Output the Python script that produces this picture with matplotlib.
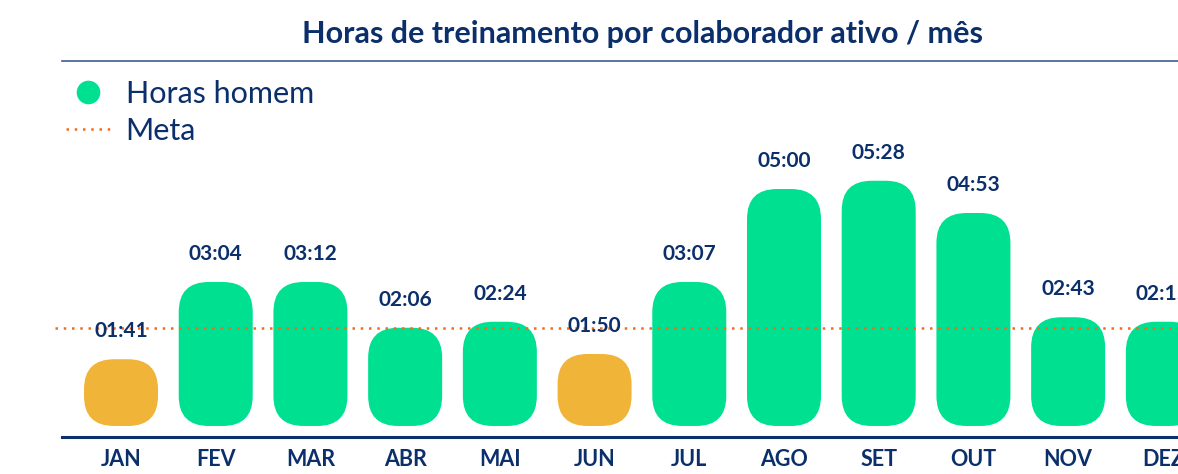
import matplotlib.pyplot as plt
from matplotlib.lines import Line2D
from matplotlib.patches import FancyBboxPatch

MESES = ["JAN", "FEV", "MAR", "ABR", "MAI", "JUN", "JUL", "AGO", "SET", "OUT", "NOV", "DEZ"]
ROTULOS = ["01:41", "03:04", "03:12", "02:06", "02:24", "01:50",
           "03:07", "05:00", "05:28", "04:53", "02:43", "02:15"]
# altura das barras como desenhadas (minutos)
ALTURA = [89, 192, 192, 131, 139, 96, 192, 316, 327, 284, 145, 139]
META = 131

VERDE = "#00E091"
AMARELO = "#F0B438"
LARANJA = "#F26B1D"
AZUL = "#0B2F6A"
LINHA_TITULO = "#3D5C8F"

W, H = 1178, 474


def main():
    plt.rcParams["font.family"] = ["Lato", "DejaVu Sans"]
    fig = plt.figure(figsize=(W / 100, H / 100), dpi=100)
    ax = fig.add_axes([62 / W, 1 - 437 / H, (W - 62) / W, (437 - 61) / H])

    xlim = (-0.623, 11.16)
    ylim = (-14.7, 486.7)
    ax.set_xlim(*xlim)
    ax.set_ylim(*ylim)

    # escala px por unidade, para arredondar as barras sem distorcer
    ax_w = W - 62
    ax_h = 437 - 61
    px_x = ax_w / (xlim[1] - xlim[0])
    px_y = ax_h / (ylim[1] - ylim[0])
    aspect = px_x / px_y
    largura = 74 / px_x
    raio = 30 / px_x

    for i, (h, txt) in enumerate(zip(ALTURA, ROTULOS)):
        cor = AMARELO if h < META else VERDE
        ax.add_patch(FancyBboxPatch(
            (i - largura / 2, 0), largura, h,
            boxstyle=f"round,pad=0,rounding_size={raio}",
            mutation_aspect=aspect, fc=cor, ec="none", zorder=2,
        ))
        ax.annotate(txt, (i, h), xytext=(0, 20), textcoords="offset points",
                    ha="center", va="center", fontsize=15, fontweight="bold",
                    color=AZUL, zorder=4)

    ax.axhline(META, xmin=-0.006, color=LARANJA, lw=1.8,
               linestyle=(0, (1, 2.3)), clip_on=False, zorder=3)

    ax.set_xticks(range(len(MESES)))
    ax.set_xticklabels(MESES, fontsize=15.5, fontweight="bold", color=AZUL)
    ax.tick_params(axis="x", length=0, pad=8.5)
    ax.set_yticks([])
    for s in ("left", "right"):
        ax.spines[s].set_visible(False)
    ax.spines["top"].set_color(LINHA_TITULO)
    ax.spines["top"].set_linewidth(1.2)
    ax.spines["bottom"].set_color(AZUL)
    ax.spines["bottom"].set_linewidth(2.2)

    handles = [
        Line2D([], [], marker="o", ls="none", markersize=17,
               markerfacecolor=VERDE, markeredgecolor="none"),
        Line2D([], [], color=LARANJA, lw=1.8, linestyle=(0, (1, 2.3))),
    ]
    fig.legend(handles, ["Horas homem", "Meta"], loc="upper left",
               bbox_to_anchor=(66 / W, 1 - 80 / H), frameon=False,
               fontsize=22, labelcolor=AZUL, handlelength=1.45,
               handletextpad=0.5, labelspacing=0.3, borderpad=0,
               borderaxespad=0)

    fig.text(642 / W, 1 - 34 / H, "Horas de treinamento por colaborador ativo / mês",
             ha="center", va="center", fontsize=22, fontweight="bold", color=AZUL)

    fig.savefig("out.png", dpi=100)


if __name__ == "__main__":
    main()
